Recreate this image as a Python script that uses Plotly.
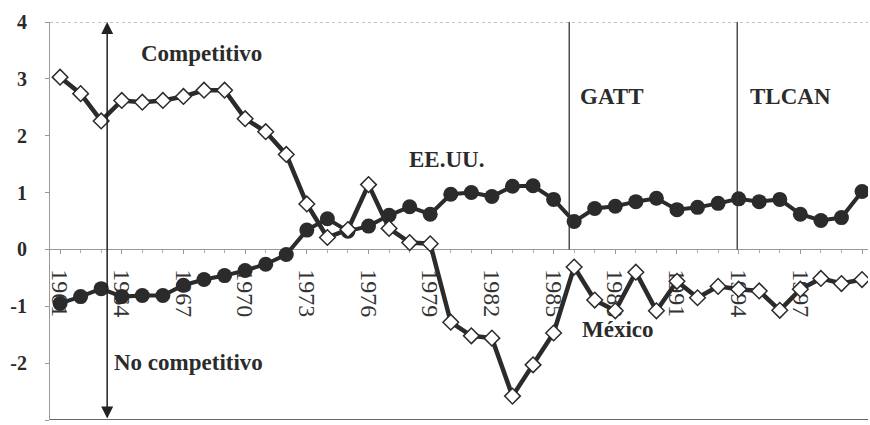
import plotly.graph_objects as go

# Data
years = list(range(1961, 2001))

mexico = [3.03, 2.74, 2.26, 2.62, 2.59, 2.62, 2.69, 2.80, 2.80, 2.30,
          2.07, 1.67, 0.80, 0.21, 0.35, 1.14, 0.37, 0.12, 0.10, -1.28,
          -1.52, -1.56, -2.58, -2.03, -1.47, -0.31, -0.89, -1.08, -0.40, -1.08,
          -0.56, -0.85, -0.65, -0.70, -0.73, -1.07, -0.70, -0.51, -0.60, -0.53]

eeuu = [-0.95, -0.83, -0.69, -0.83, -0.81, -0.81, -0.63, -0.53, -0.46, -0.37,
        -0.26, -0.09, 0.34, 0.54, 0.32, 0.41, 0.60, 0.75, 0.62, 0.97,
        1.00, 0.93, 1.11, 1.12, 0.88, 0.49, 0.72, 0.76, 0.84, 0.90,
        0.70, 0.74, 0.81, 0.89, 0.84, 0.88, 0.62, 0.51, 0.56, 1.02]

tick_years = list(range(1961, 2001, 3))
y_ticks = [4, 3, 2, 1, 0, -1, -2, -3]
y_ticktext = ['<b>%d</b>' % v for v in y_ticks]  # plain hyphen minus as in the source

gatt_year = 1985.76
tlcan_year = 1993.93
arrow_year = 1963.29

INK = '#2b2b2b'
SERIF = 'Liberation Serif, Times New Roman, serif'

fig = go.Figure()

fig.add_trace(go.Scatter(
    x=years, y=eeuu, mode='lines+markers', name='EE.UU.',
    line=dict(color=INK, width=4),
    marker=dict(symbol='circle', size=15, color=INK),
))

fig.add_trace(go.Scatter(
    x=years, y=mexico, mode='lines+markers', name='México',
    line=dict(color=INK, width=4.5),
    marker=dict(symbol='diamond', size=12, color='white',
                line=dict(color=INK, width=1.5)),
))

# Period separators (GATT / TLCAN)
for yr in (gatt_year, tlcan_year):
    fig.add_shape(type='line', x0=yr, x1=yr, y0=0, y1=4,
                  xref='x', yref='y', line=dict(color='#333', width=1.3))

# Frame lines top and bottom
fig.add_shape(type='line', x0=0, x1=1, y0=4, y1=4, xref='paper', yref='y',
              line=dict(color='#888', width=1.2, dash='dot'))
fig.add_shape(type='line', x0=0, x1=1, y0=-3, y1=-3, xref='paper', yref='y',
              line=dict(color='#333', width=1.5))

# Double-headed arrow: competitivo / no competitivo
fig.add_annotation(x=arrow_year, y=4, ax=arrow_year, ay=-3,
                   xref='x', yref='y', axref='x', ayref='y',
                   text='', showarrow=True, arrowside='end+start',
                   arrowhead=2, startarrowhead=2, arrowsize=1.6, startarrowsize=1.6,
                   arrowwidth=1.5, arrowcolor='#222')

labels = [
    ('Competitivo', 1964.84, 3.44),
    ('No competitivo', 1963.53, -1.99),
    ('EE.UU.', 1977.88, 1.58),
    ('GATT', 1986.19, 2.69),
    ('TLCAN', 1994.46, 2.69),
    ('México', 1986.29, -1.41),
]
for txt, lx, ly in labels:
    fig.add_annotation(x=lx, y=ly, text='<b>' + txt + '</b>', showarrow=False,
                       xanchor='left', yanchor='middle',
                       font=dict(family=SERIF, size=23, color=INK))

fig.update_layout(
    width=870, height=425,
    margin=dict(l=50, r=2, t=22, b=5, autoexpand=False),
    paper_bgcolor='white', plot_bgcolor='white',
    showlegend=False,
    xaxis=dict(
        range=[1960.51, 2000.29],
        tickvals=tick_years,
        tickangle=90,
        tickfont=dict(family=SERIF, size=24, color='#333'),
        ticklabelstandoff=10,
        showgrid=False, zeroline=False,
        showline=True, linecolor='#999', linewidth=1,
        ticks='outside', ticklen=4, tickcolor='#999',
        minor=dict(dtick=1, ticks='outside', ticklen=3, tickcolor='#aaa'),
        anchor='free', position=3 / 7, automargin=False,
        layer='below traces',
    ),
    yaxis=dict(
        range=[-3, 4],
        tickvals=y_ticks,
        ticktext=y_ticktext,
        tickfont=dict(family=SERIF, size=20, color=INK),
        ticklabelstandoff=14,
        showgrid=False, zeroline=False,
        showline=True, linecolor='#999', linewidth=1,
        ticks='outside', ticklen=4, tickcolor='#999',
        automargin=False,
    ),
)

# drop the default 8px page margin so the figure fills the window
fig.write_html('out.html', config={'displayModeBar': False},
               post_script="document.body.style.margin='0px';")
